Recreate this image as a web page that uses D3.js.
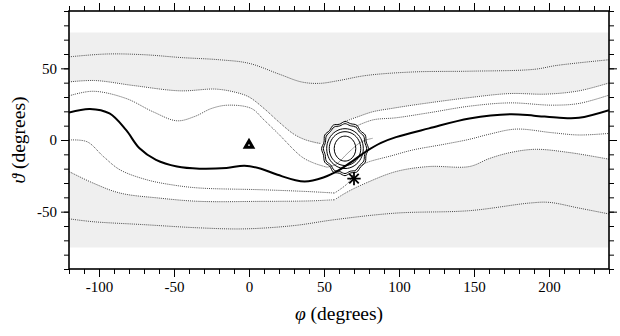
<!DOCTYPE html>
<html>
<head>
<meta charset="utf-8">
<script src="https://cdn.jsdelivr.net/npm/d3@7"></script>
<style>
  body { margin: 0; background: #fff; }
  svg { display: block; }
</style>
</head>
<body>
<svg id="chart" width="620" height="336"></svg>
<script>
// axis ranges and ticks (degrees)
const phiDomain = [-120, 240];
const thetaDomain = [-90, 90];
const phiMajor = [-100, -50, 0, 50, 100, 150, 200];
const thetaMajor = [-50, 0, 50];
const bandTheta = [-75, 75];

// dotted field lines, [phi, theta]
const lineA = [[-120,58],[-95,60],[-70,59.5],[-45,57.5],[-20,56],[0,53.5],[20,46],[35,40.5],[47,39.5],[60,41.5],[78,45],[110,47.5],[147,48],[190,49.3],[205,52],[240,56]];
const lineBLeft = [[-120,40.5],[-103,41.5],[-77,38],[-46,34.3],[-22,35.5],[-8,33],[0,30],[10,22],[20,12.5],[30,4],[38,0],[48,-2.5]];
const lineCLeft = [[-120,30.8],[-104,34],[-82,29],[-64,19.7],[-48,13.4],[-36,16.5],[-25,22],[-14,24.3],[1.6,22],[10,14],[19.3,4.6],[35,-11.6],[43,-16],[52,-19]];
const lineDLeft = [[-120,0],[-108,-1.2],[-97,-11.6],[-86,-20.8],[-68,-27.8],[-50,-31.5],[-33,-33.5],[8,-34.7],[40,-36],[57,-37]];
const lineELeft = [[-120,-22],[-104,-30],[-86,-37],[-60,-40.5],[-33,-42.8],[8,-42.8],[40,-42.5],[57,-41.7]];
const lineF = [[-120,-55],[-104,-57],[-71,-59],[-33,-61.3],[-3,-62],[30,-59.7],[57,-55.6],[98,-51],[147,-49.3],[187,-44],[200,-43.5],[220,-47.5],[240,-51.6]];
const lineR1 = [[64,13],[72,16],[82.5,19.7],[95,22],[109,24.3],[147,29.6],[174,32.4],[198,32],[220,34.3],[240,39.8]];
const lineR2 = [[70,9],[82.5,14],[98,15.5],[120,19],[147,23.6],[174,25.9],[202,24.3],[220,25.5],[240,31.3]];
const lineRD = [[57,-37],[66,-30],[72,-20],[78,-16],[95,-11],[109,-7],[130,-3],[147,0.5],[160,4],[178,7.6],[202,5.1],[220,3.5],[240,4.6]];
const lineRE = [[57,-41.7],[66,-36],[78,-30],[98,-22],[120,-18.5],[147,-18.5],[160,-13],[174,-8.8],[191,-6.5],[214,-8.8],[240,-13.4]];
const lineDiag = [[52,-19],[58,-17],[66,-9],[75,-1.2],[82.5,1.2]];

// trajectory (thick)
const track = [[-120,19.2],[-106,21.7],[-93,18.5],[-82,7],[-73,-5.8],[-62,-13.9],[-48,-18.5],[-33,-20],[-15,-19.5],[-3,-18],[8,-20],[19,-24.3],[37,-29],[50,-26],[60,-21],[70,-14],[78,-8],[88,-2],[98,2],[120,8.1],[147,15],[174,18],[190,17],[207,15.5],[220,15.5],[240,20.8]];

// contour rings round the source
const ringCenter = [64, -6];
const ringAngles = [0,15,30,45,60,75,90,105,120,135,150,165,180,195,210,225,240,255,270,285,300,315,330,345];
const ringRx = [7.2, 10.5, 12.2, 14.4, 15.6];
const ringRy = [8.7, 11.8, 13.9, 17.4, 18.9];
const ringShape = [
  [1,1,1,1,1,1,1,1,1,1,1,1,1,1,1,1,1,1,1,1,1,1,1,1],
  [1,1,1,1,1,1,1,1,1,1,1,1,1,1,1,1,1,1,1,1,1,1,1,1],
  [1,1,1,1,1,1,1,1,1,1,1,1,1,1,1,1,1,1,1,1,1,1,1,1],
  [1,.95,1,.94,1,.95,1,.94,1,.96,1,.94,1,.95,1,.93,1,.95,1,.94,1,.95,1,.94],
  [1,.94,1,.93,1,.95,1,.93,1,.94,1,.93,1,.95,1,.92,1,.94,1,.93,1,.95,1,.93]
];

// markers
const triangleAt = [0, -3.5];
const starAt = [70, -27];

const svg = d3.select("#chart");
const x = d3.scaleLinear(phiDomain, [69, 609]);
const y = d3.scaleLinear(thetaDomain, [269, 11]);
const x0 = x.range()[0], x1 = x.range()[1], yTop = y.range()[1], yBot = y.range()[0];

svg.append("clipPath").attr("id", "plot-clip").append("rect")
  .attr("x", x0).attr("y", yTop).attr("width", x1 - x0).attr("height", yBot - yTop);
const plot = svg.append("g").attr("clip-path", "url(#plot-clip)");

const curve = d3.curveCatmullRom.alpha(0.5);
const lineGen = d3.line().x(d => x(d[0])).y(d => y(d[1])).curve(curve);

// gray band
plot.append("rect").attr("x", x0).attr("width", x1 - x0)
  .attr("y", y(bandTheta[1])).attr("height", y(bandTheta[0]) - y(bandTheta[1]))
  .attr("fill", "#efefef");

// white wake between the second lines above and below the track
const upper = lineBLeft.concat(lineR1);
const lower = lineELeft.concat(lineRE.slice(1));
const wakePath = lineGen(upper) + lineGen(lower.slice().reverse()).replace(/^M/, "L") + "Z";
plot.append("path").attr("d", wakePath).attr("fill", "#fff");

// dotted lines
const dotted = [lineA, lineBLeft, lineCLeft, lineDLeft, lineELeft, lineF, lineR1, lineR2, lineRD, lineRE];
plot.selectAll("path.dot").data(dotted).join("path")
  .attr("class", "dot")
  .attr("d", lineGen)
  .attr("fill", "none").attr("stroke", "#333").attr("stroke-width", 0.9)
  .attr("stroke-dasharray", "1,1.1");

plot.append("path").datum(lineDiag).attr("d", lineGen)
  .attr("fill", "none").attr("stroke", "#888").attr("stroke-width", 0.8);

// contour rings
ringRx.forEach((rx, i) => {
  const pts = ringAngles.map((a, j) => {
    const t = a * Math.PI / 180;
    const f = ringShape[i][j];
    return [x(ringCenter[0] + rx * f * Math.cos(t)), y(ringCenter[1] + ringRy[i] * f * Math.sin(t))];
  });
  plot.append("path")
    .attr("d", d3.line().curve(d3.curveCardinalClosed)(pts))
    .attr("fill", "none").attr("stroke", "#000").attr("stroke-width", 1);
});

// thick trajectory
plot.append("path").datum(track).attr("d", lineGen)
  .attr("fill", "none").attr("stroke", "#000").attr("stroke-width", 2);

// markers
plot.append("path")
  .attr("d", d3.symbol(d3.symbolTriangle, 24)())
  .attr("transform", `translate(${x(triangleAt[0])},${y(triangleAt[1])})`)
  .attr("fill", "#fff").attr("stroke", "#000").attr("stroke-width", 3)
  .attr("stroke-linejoin", "miter");
[d3.symbolPlus, d3.symbolTimes].forEach(sym => {
  plot.append("path")
    .attr("d", d3.symbol(sym, 60)())
    .attr("transform", `translate(${x(starAt[0])},${y(starAt[1])})`)
    .attr("fill", "none").attr("stroke", "#000").attr("stroke-width", 1.8);
});

// axes
const font = "'Liberation Serif', 'Times New Roman', serif";
const phiMinor = d3.range(phiDomain[0], phiDomain[1] + 1, 10);
const thetaMinor = d3.range(thetaDomain[0], thetaDomain[1] + 1, 10);

function addAxis(axisFn, scale, minor, major, transform, labels) {
  const gMin = svg.append("g").attr("transform", transform)
    .call(axisFn(scale).tickValues(minor).tickSize(5).tickFormat(""));
  const gMaj = svg.append("g").attr("transform", transform)
    .call(axisFn(scale).tickValues(major).tickSize(8).tickPadding(4)
      .tickFormat(labels ? (d => String(d)) : ""));
  [gMin, gMaj].forEach(g => {
    g.attr("font-family", font).attr("font-size", 15);
    g.select(".domain").remove();
    g.selectAll("line").attr("stroke", "#000").attr("stroke-width", 1);
    g.selectAll("text").attr("font-family", font).attr("font-size", 15).attr("fill", "#000");
  });
  return gMaj;
}
addAxis(d3.axisBottom, x, phiMinor, phiMajor, `translate(0,${yBot})`, true);
addAxis(d3.axisTop, x, phiMinor, phiMajor, `translate(0,${yTop})`, false);
addAxis(d3.axisLeft, y, thetaMinor, thetaMajor, `translate(${x0},0)`, true);
addAxis(d3.axisRight, y, thetaMinor, thetaMajor, `translate(${x1},0)`, false);

svg.append("rect").attr("x", x0).attr("y", yTop).attr("width", x1 - x0).attr("height", yBot - yTop)
  .attr("fill", "none").attr("stroke", "#000").attr("stroke-width", 1.6);

// axis titles
const xt = svg.append("text").attr("x", (x0 + x1) / 2).attr("y", 320)
  .attr("text-anchor", "middle").attr("font-family", font).attr("font-size", 19.5);
xt.append("tspan").attr("font-style", "italic").text("φ");
xt.append("tspan").text(" (degrees)");

const yt = svg.append("text").attr("transform", `translate(25,${(yTop + yBot) / 2}) rotate(-90)`)
  .attr("text-anchor", "middle").attr("font-family", font).attr("font-size", 19.5);
yt.append("tspan").attr("font-style", "italic").text("ϑ");
yt.append("tspan").text(" (degrees)");
</script>
</body>
</html>
